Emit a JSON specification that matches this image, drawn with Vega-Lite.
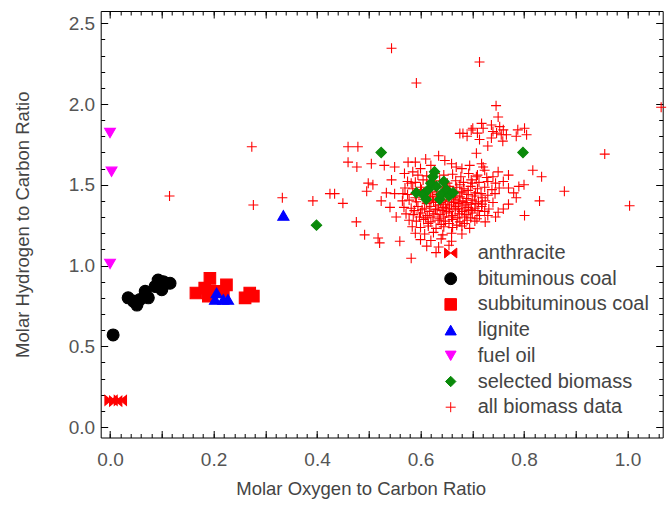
{
  "$schema": "https://vega.github.io/schema/vega-lite/v6.json",
  "autosize": "none",
  "width": 562,
  "height": 426.5,
  "padding": {"left": 100.7, "top": 11, "right": 6.3, "bottom": 69.5},
  "background": "white",
  "config": {
    "view": {"stroke": null},
    "font": "Liberation Sans",
    "axis": {"grid": false, "domainColor": "#000", "tickColor": "#000", "domainWidth": 1, "tickWidth": 1, "labelFont": "Liberation Sans", "labelFontSize": 19, "labelColor": "#555", "titleFont": "Liberation Sans", "titleFontSize": 18.5, "titleFontWeight": "normal", "titleColor": "#444"},
    "legend": {"labelFont": "Liberation Sans", "labelFontSize": 20, "labelColor": "#444", "labelLimit": 400}
  },
  "resolve": {"axis": {"x": "independent", "y": "independent"}},
  "layer": [
    {
      "data": {"values": [
        {"oc": 0.115, "hc": 1.43, "t": "all biomass data"},
        {"oc": 0.274, "hc": 1.735, "t": "all biomass data"},
        {"oc": 0.277, "hc": 1.375, "t": "all biomass data"},
        {"oc": 0.333, "hc": 1.42, "t": "all biomass data"},
        {"oc": 0.392, "hc": 1.40, "t": "all biomass data"},
        {"oc": 0.425, "hc": 1.445, "t": "all biomass data"},
        {"oc": 0.434, "hc": 1.445, "t": "all biomass data"},
        {"oc": 0.45, "hc": 1.385, "t": "all biomass data"},
        {"oc": 0.46, "hc": 1.735, "t": "all biomass data"},
        {"oc": 0.479, "hc": 1.735, "t": "all biomass data"},
        {"oc": 0.46, "hc": 1.64, "t": "all biomass data"},
        {"oc": 0.477, "hc": 1.61, "t": "all biomass data"},
        {"oc": 0.476, "hc": 1.27, "t": "all biomass data"},
        {"oc": 0.492, "hc": 1.19, "t": "all biomass data"},
        {"oc": 0.518, "hc": 1.17, "t": "all biomass data"},
        {"oc": 0.521, "hc": 1.14, "t": "all biomass data"},
        {"oc": 0.56, "hc": 1.15, "t": "all biomass data"},
        {"oc": 0.582, "hc": 1.045, "t": "all biomass data"},
        {"oc": 0.544, "hc": 2.345, "t": "all biomass data"},
        {"oc": 0.714, "hc": 2.26, "t": "all biomass data"},
        {"oc": 0.592, "hc": 2.13, "t": "all biomass data"},
        {"oc": 1.065, "hc": 1.98, "t": "all biomass data"},
        {"oc": 0.746, "hc": 1.99, "t": "all biomass data"},
        {"oc": 0.75, "hc": 1.92, "t": "all biomass data"},
        {"oc": 0.956, "hc": 1.69, "t": "all biomass data"},
        {"oc": 1.004, "hc": 1.37, "t": "all biomass data"},
        {"oc": 0.878, "hc": 1.46, "t": "all biomass data"},
        {"oc": 0.83, "hc": 1.40, "t": "all biomass data"},
        {"oc": 0.817, "hc": 1.59, "t": "all biomass data"},
        {"oc": 0.834, "hc": 1.55, "t": "all biomass data"},
        {"oc": 0.801, "hc": 1.31, "t": "all biomass data"},
        {"oc": 0.505, "hc": 1.63, "t": "all biomass data"},
        {"oc": 0.53, "hc": 1.62, "t": "all biomass data"},
        {"oc": 0.55, "hc": 1.61, "t": "all biomass data"},
        {"oc": 0.499, "hc": 1.51, "t": "all biomass data"},
        {"oc": 0.508, "hc": 1.50, "t": "all biomass data"},
        {"oc": 0.496, "hc": 1.46, "t": "all biomass data"},
        {"oc": 0.534, "hc": 1.45, "t": "all biomass data"},
        {"oc": 0.544, "hc": 1.53, "t": "all biomass data"},
        {"oc": 0.55, "hc": 1.445, "t": "all biomass data"},
        {"oc": 0.566, "hc": 1.445, "t": "all biomass data"},
        {"oc": 0.524, "hc": 1.40, "t": "all biomass data"},
        {"oc": 0.541, "hc": 1.36, "t": "all biomass data"},
        {"oc": 0.553, "hc": 1.30, "t": "all biomass data"},
        {"oc": 0.576, "hc": 1.64, "t": "all biomass data"},
        {"oc": 0.569, "hc": 1.57, "t": "all biomass data"},
        {"oc": 0.582, "hc": 1.51, "t": "all biomass data"},
        {"oc": 0.676, "hc": 1.818, "t": "all biomass data"},
        {"oc": 0.682, "hc": 1.818, "t": "all biomass data"},
        {"oc": 0.698, "hc": 1.839, "t": "all biomass data"},
        {"oc": 0.701, "hc": 1.85, "t": "all biomass data"},
        {"oc": 0.718, "hc": 1.88, "t": "all biomass data"},
        {"oc": 0.721, "hc": 1.85, "t": "all biomass data"},
        {"oc": 0.737, "hc": 1.87, "t": "all biomass data"},
        {"oc": 0.740, "hc": 1.83, "t": "all biomass data"},
        {"oc": 0.747, "hc": 1.82, "t": "all biomass data"},
        {"oc": 0.753, "hc": 1.86, "t": "all biomass data"},
        {"oc": 0.756, "hc": 1.81, "t": "all biomass data"},
        {"oc": 0.766, "hc": 1.81, "t": "all biomass data"},
        {"oc": 0.759, "hc": 1.77, "t": "all biomass data"},
        {"oc": 0.788, "hc": 1.84, "t": "all biomass data"},
        {"oc": 0.801, "hc": 1.85, "t": "all biomass data"},
        {"oc": 0.805, "hc": 1.81, "t": "all biomass data"},
        {"oc": 0.714, "hc": 1.78, "t": "all biomass data"},
        {"oc": 0.737, "hc": 1.79, "t": "all biomass data"},
        {"oc": 0.708, "hc": 1.695, "t": "all biomass data"},
        {"oc": 0.718, "hc": 1.63, "t": "all biomass data"},
        {"oc": 0.721, "hc": 1.61, "t": "all biomass data"},
        {"oc": 0.724, "hc": 1.59, "t": "all biomass data"},
        {"oc": 0.708, "hc": 1.55, "t": "all biomass data"},
        {"oc": 0.669, "hc": 1.61, "t": "all biomass data"},
        {"oc": 0.66, "hc": 1.63, "t": "all biomass data"},
        {"oc": 0.647, "hc": 1.65, "t": "all biomass data"},
        {"oc": 0.73, "hc": 1.74, "t": "all biomass data"},
        {"oc": 0.69, "hc": 1.80, "t": "all biomass data"},
        {"oc": 0.76, "hc": 1.84, "t": "all biomass data"},
        {"oc": 0.785, "hc": 1.80, "t": "all biomass data"},
        {"oc": 0.71, "hc": 1.82, "t": "all biomass data"},
        {"oc": 0.76, "hc": 1.52, "t": "all biomass data"},
        {"oc": 0.77, "hc": 1.48, "t": "all biomass data"},
        {"oc": 0.78, "hc": 1.45, "t": "all biomass data"},
        {"oc": 0.785, "hc": 1.42, "t": "all biomass data"},
        {"oc": 0.77, "hc": 1.38, "t": "all biomass data"},
        {"oc": 0.76, "hc": 1.35, "t": "all biomass data"},
        {"oc": 0.75, "hc": 1.33, "t": "all biomass data"},
        {"oc": 0.745, "hc": 1.30, "t": "all biomass data"},
        {"oc": 0.73, "hc": 1.31, "t": "all biomass data"},
        {"oc": 0.725, "hc": 1.27, "t": "all biomass data"},
        {"oc": 0.79, "hc": 1.49, "t": "all biomass data"},
        {"oc": 0.80, "hc": 1.50, "t": "all biomass data"},
        {"oc": 0.74, "hc": 1.55, "t": "all biomass data"},
        {"oc": 0.75, "hc": 1.58, "t": "all biomass data"},
        {"oc": 0.77, "hc": 1.56, "t": "all biomass data"},
        {"oc": 0.695, "hc": 1.62, "t": "all biomass data"},
        {"oc": 0.68, "hc": 1.60, "t": "all biomass data"},
        {"oc": 0.62, "hc": 1.62, "t": "all biomass data"},
        {"oc": 0.60, "hc": 1.60, "t": "all biomass data"},
        {"oc": 0.59, "hc": 1.64, "t": "all biomass data"},
        {"oc": 0.61, "hc": 1.66, "t": "all biomass data"},
        {"oc": 0.635, "hc": 1.68, "t": "all biomass data"},
        {"oc": 0.585, "hc": 1.58, "t": "all biomass data"},
        {"oc": 0.595, "hc": 1.56, "t": "all biomass data"},
        {"oc": 0.612, "hc": 1.555, "t": "all biomass data"},
        {"oc": 0.628, "hc": 1.57, "t": "all biomass data"},
        {"oc": 0.645, "hc": 1.56, "t": "all biomass data"},
        {"oc": 0.662, "hc": 1.565, "t": "all biomass data"},
        {"oc": 0.678, "hc": 1.55, "t": "all biomass data"},
        {"oc": 0.693, "hc": 1.57, "t": "all biomass data"},
        {"oc": 0.71, "hc": 1.56, "t": "all biomass data"},
        {"oc": 0.728, "hc": 1.545, "t": "all biomass data"},
        {"oc": 0.575, "hc": 1.52, "t": "all biomass data"},
        {"oc": 0.59, "hc": 1.515, "t": "all biomass data"},
        {"oc": 0.605, "hc": 1.53, "t": "all biomass data"},
        {"oc": 0.62, "hc": 1.52, "t": "all biomass data"},
        {"oc": 0.637, "hc": 1.525, "t": "all biomass data"},
        {"oc": 0.652, "hc": 1.51, "t": "all biomass data"},
        {"oc": 0.668, "hc": 1.525, "t": "all biomass data"},
        {"oc": 0.683, "hc": 1.515, "t": "all biomass data"},
        {"oc": 0.698, "hc": 1.53, "t": "all biomass data"},
        {"oc": 0.713, "hc": 1.515, "t": "all biomass data"},
        {"oc": 0.73, "hc": 1.52, "t": "all biomass data"},
        {"oc": 0.745, "hc": 1.51, "t": "all biomass data"},
        {"oc": 0.57, "hc": 1.48, "t": "all biomass data"},
        {"oc": 0.585, "hc": 1.475, "t": "all biomass data"},
        {"oc": 0.6, "hc": 1.485, "t": "all biomass data"},
        {"oc": 0.614, "hc": 1.47, "t": "all biomass data"},
        {"oc": 0.628, "hc": 1.485, "t": "all biomass data"},
        {"oc": 0.643, "hc": 1.48, "t": "all biomass data"},
        {"oc": 0.657, "hc": 1.47, "t": "all biomass data"},
        {"oc": 0.67, "hc": 1.485, "t": "all biomass data"},
        {"oc": 0.684, "hc": 1.475, "t": "all biomass data"},
        {"oc": 0.697, "hc": 1.49, "t": "all biomass data"},
        {"oc": 0.71, "hc": 1.475, "t": "all biomass data"},
        {"oc": 0.724, "hc": 1.485, "t": "all biomass data"},
        {"oc": 0.738, "hc": 1.47, "t": "all biomass data"},
        {"oc": 0.752, "hc": 1.48, "t": "all biomass data"},
        {"oc": 0.575, "hc": 1.44, "t": "all biomass data"},
        {"oc": 0.59, "hc": 1.445, "t": "all biomass data"},
        {"oc": 0.604, "hc": 1.435, "t": "all biomass data"},
        {"oc": 0.618, "hc": 1.45, "t": "all biomass data"},
        {"oc": 0.631, "hc": 1.44, "t": "all biomass data"},
        {"oc": 0.644, "hc": 1.43, "t": "all biomass data"},
        {"oc": 0.656, "hc": 1.445, "t": "all biomass data"},
        {"oc": 0.668, "hc": 1.435, "t": "all biomass data"},
        {"oc": 0.68, "hc": 1.45, "t": "all biomass data"},
        {"oc": 0.692, "hc": 1.44, "t": "all biomass data"},
        {"oc": 0.704, "hc": 1.43, "t": "all biomass data"},
        {"oc": 0.717, "hc": 1.445, "t": "all biomass data"},
        {"oc": 0.73, "hc": 1.435, "t": "all biomass data"},
        {"oc": 0.744, "hc": 1.445, "t": "all biomass data"},
        {"oc": 0.565, "hc": 1.40, "t": "all biomass data"},
        {"oc": 0.578, "hc": 1.405, "t": "all biomass data"},
        {"oc": 0.592, "hc": 1.395, "t": "all biomass data"},
        {"oc": 0.605, "hc": 1.41, "t": "all biomass data"},
        {"oc": 0.617, "hc": 1.40, "t": "all biomass data"},
        {"oc": 0.629, "hc": 1.39, "t": "all biomass data"},
        {"oc": 0.641, "hc": 1.405, "t": "all biomass data"},
        {"oc": 0.653, "hc": 1.395, "t": "all biomass data"},
        {"oc": 0.665, "hc": 1.41, "t": "all biomass data"},
        {"oc": 0.676, "hc": 1.40, "t": "all biomass data"},
        {"oc": 0.688, "hc": 1.39, "t": "all biomass data"},
        {"oc": 0.70, "hc": 1.405, "t": "all biomass data"},
        {"oc": 0.712, "hc": 1.395, "t": "all biomass data"},
        {"oc": 0.725, "hc": 1.40, "t": "all biomass data"},
        {"oc": 0.74, "hc": 1.39, "t": "all biomass data"},
        {"oc": 0.568, "hc": 1.36, "t": "all biomass data"},
        {"oc": 0.582, "hc": 1.355, "t": "all biomass data"},
        {"oc": 0.595, "hc": 1.365, "t": "all biomass data"},
        {"oc": 0.608, "hc": 1.355, "t": "all biomass data"},
        {"oc": 0.62, "hc": 1.365, "t": "all biomass data"},
        {"oc": 0.632, "hc": 1.35, "t": "all biomass data"},
        {"oc": 0.644, "hc": 1.36, "t": "all biomass data"},
        {"oc": 0.656, "hc": 1.355, "t": "all biomass data"},
        {"oc": 0.668, "hc": 1.365, "t": "all biomass data"},
        {"oc": 0.68, "hc": 1.35, "t": "all biomass data"},
        {"oc": 0.692, "hc": 1.36, "t": "all biomass data"},
        {"oc": 0.705, "hc": 1.355, "t": "all biomass data"},
        {"oc": 0.718, "hc": 1.365, "t": "all biomass data"},
        {"oc": 0.732, "hc": 1.35, "t": "all biomass data"},
        {"oc": 0.572, "hc": 1.32, "t": "all biomass data"},
        {"oc": 0.586, "hc": 1.315, "t": "all biomass data"},
        {"oc": 0.6, "hc": 1.325, "t": "all biomass data"},
        {"oc": 0.613, "hc": 1.31, "t": "all biomass data"},
        {"oc": 0.626, "hc": 1.32, "t": "all biomass data"},
        {"oc": 0.638, "hc": 1.315, "t": "all biomass data"},
        {"oc": 0.65, "hc": 1.325, "t": "all biomass data"},
        {"oc": 0.662, "hc": 1.31, "t": "all biomass data"},
        {"oc": 0.675, "hc": 1.32, "t": "all biomass data"},
        {"oc": 0.688, "hc": 1.315, "t": "all biomass data"},
        {"oc": 0.70, "hc": 1.325, "t": "all biomass data"},
        {"oc": 0.714, "hc": 1.31, "t": "all biomass data"},
        {"oc": 0.578, "hc": 1.28, "t": "all biomass data"},
        {"oc": 0.592, "hc": 1.275, "t": "all biomass data"},
        {"oc": 0.606, "hc": 1.285, "t": "all biomass data"},
        {"oc": 0.62, "hc": 1.27, "t": "all biomass data"},
        {"oc": 0.634, "hc": 1.28, "t": "all biomass data"},
        {"oc": 0.648, "hc": 1.275, "t": "all biomass data"},
        {"oc": 0.662, "hc": 1.285, "t": "all biomass data"},
        {"oc": 0.676, "hc": 1.27, "t": "all biomass data"},
        {"oc": 0.69, "hc": 1.28, "t": "all biomass data"},
        {"oc": 0.705, "hc": 1.275, "t": "all biomass data"},
        {"oc": 0.584, "hc": 1.24, "t": "all biomass data"},
        {"oc": 0.6, "hc": 1.235, "t": "all biomass data"},
        {"oc": 0.615, "hc": 1.245, "t": "all biomass data"},
        {"oc": 0.63, "hc": 1.23, "t": "all biomass data"},
        {"oc": 0.645, "hc": 1.24, "t": "all biomass data"},
        {"oc": 0.662, "hc": 1.235, "t": "all biomass data"},
        {"oc": 0.68, "hc": 1.245, "t": "all biomass data"},
        {"oc": 0.695, "hc": 1.23, "t": "all biomass data"},
        {"oc": 0.59, "hc": 1.20, "t": "all biomass data"},
        {"oc": 0.608, "hc": 1.195, "t": "all biomass data"},
        {"oc": 0.625, "hc": 1.205, "t": "all biomass data"},
        {"oc": 0.643, "hc": 1.19, "t": "all biomass data"},
        {"oc": 0.66, "hc": 1.20, "t": "all biomass data"},
        {"oc": 0.68, "hc": 1.195, "t": "all biomass data"},
        {"oc": 0.6, "hc": 1.16, "t": "all biomass data"},
        {"oc": 0.62, "hc": 1.155, "t": "all biomass data"},
        {"oc": 0.64, "hc": 1.165, "t": "all biomass data"},
        {"oc": 0.66, "hc": 1.15, "t": "all biomass data"},
        {"oc": 0.612, "hc": 1.12, "t": "all biomass data"},
        {"oc": 0.635, "hc": 1.115, "t": "all biomass data"},
        {"oc": 0.655, "hc": 1.125, "t": "all biomass data"},
        {"oc": 0.63, "hc": 1.08, "t": "all biomass data"},
        {"oc": 0.623, "hc": 1.425, "t": "all biomass data"},
        {"oc": 0.637, "hc": 1.415, "t": "all biomass data"},
        {"oc": 0.65, "hc": 1.425, "t": "all biomass data"},
        {"oc": 0.663, "hc": 1.42, "t": "all biomass data"},
        {"oc": 0.676, "hc": 1.425, "t": "all biomass data"},
        {"oc": 0.689, "hc": 1.415, "t": "all biomass data"},
        {"oc": 0.635, "hc": 1.375, "t": "all biomass data"},
        {"oc": 0.648, "hc": 1.38, "t": "all biomass data"},
        {"oc": 0.66, "hc": 1.375, "t": "all biomass data"},
        {"oc": 0.673, "hc": 1.385, "t": "all biomass data"},
        {"oc": 0.686, "hc": 1.375, "t": "all biomass data"},
        {"oc": 0.698, "hc": 1.38, "t": "all biomass data"},
        {"oc": 0.642, "hc": 1.34, "t": "all biomass data"},
        {"oc": 0.655, "hc": 1.335, "t": "all biomass data"},
        {"oc": 0.667, "hc": 1.345, "t": "all biomass data"},
        {"oc": 0.68, "hc": 1.335, "t": "all biomass data"},
        {"oc": 0.693, "hc": 1.34, "t": "all biomass data"},
        {"oc": 0.63, "hc": 1.46, "t": "all biomass data"},
        {"oc": 0.655, "hc": 1.46, "t": "all biomass data"},
        {"oc": 0.68, "hc": 1.46, "t": "all biomass data"},
        {"oc": 0.66, "hc": 1.30, "t": "all biomass data"},
        {"oc": 0.645, "hc": 1.30, "t": "all biomass data"},
        {"oc": 0.685, "hc": 1.30, "t": "all biomass data"},
        {"oc": 0.606, "hc": 1.45, "t": "all biomass data"},
        {"oc": 0.619, "hc": 1.43, "t": "all biomass data"},
        {"oc": 0.642, "hc": 1.455, "t": "all biomass data"},
        {"oc": 0.667, "hc": 1.455, "t": "all biomass data"},
        {"oc": 0.692, "hc": 1.465, "t": "all biomass data"},
        {"oc": 0.706, "hc": 1.45, "t": "all biomass data"},
        {"oc": 0.719, "hc": 1.42, "t": "all biomass data"},
        {"oc": 0.612, "hc": 1.385, "t": "all biomass data"},
        {"oc": 0.625, "hc": 1.40, "t": "all biomass data"},
        {"oc": 0.639, "hc": 1.39, "t": "all biomass data"},
        {"oc": 0.664, "hc": 1.39, "t": "all biomass data"},
        {"oc": 0.682, "hc": 1.395, "t": "all biomass data"},
        {"oc": 0.707, "hc": 1.385, "t": "all biomass data"},
        {"oc": 0.719, "hc": 1.38, "t": "all biomass data"},
        {"oc": 0.603, "hc": 1.345, "t": "all biomass data"},
        {"oc": 0.617, "hc": 1.335, "t": "all biomass data"},
        {"oc": 0.629, "hc": 1.345, "t": "all biomass data"},
        {"oc": 0.65, "hc": 1.35, "t": "all biomass data"},
        {"oc": 0.673, "hc": 1.355, "t": "all biomass data"},
        {"oc": 0.698, "hc": 1.345, "t": "all biomass data"},
        {"oc": 0.711, "hc": 1.34, "t": "all biomass data"},
        {"oc": 0.724, "hc": 1.335, "t": "all biomass data"},
        {"oc": 0.61, "hc": 1.295, "t": "all biomass data"},
        {"oc": 0.624, "hc": 1.30, "t": "all biomass data"},
        {"oc": 0.637, "hc": 1.29, "t": "all biomass data"},
        {"oc": 0.672, "hc": 1.295, "t": "all biomass data"},
        {"oc": 0.697, "hc": 1.295, "t": "all biomass data"},
        {"oc": 0.709, "hc": 1.29, "t": "all biomass data"},
        {"oc": 0.615, "hc": 1.26, "t": "all biomass data"},
        {"oc": 0.64, "hc": 1.255, "t": "all biomass data"},
        {"oc": 0.655, "hc": 1.26, "t": "all biomass data"},
        {"oc": 0.67, "hc": 1.25, "t": "all biomass data"},
        {"oc": 0.685, "hc": 1.26, "t": "all biomass data"},
        {"oc": 0.598, "hc": 1.30, "t": "all biomass data"},
        {"oc": 0.588, "hc": 1.34, "t": "all biomass data"},
        {"oc": 0.59, "hc": 1.42, "t": "all biomass data"},
        {"oc": 0.602, "hc": 1.47, "t": "all biomass data"},
        {"oc": 0.655, "hc": 1.49, "t": "all biomass data"},
        {"oc": 0.676, "hc": 1.50, "t": "all biomass data"},
        {"oc": 0.70, "hc": 1.51, "t": "all biomass data"},
        {"oc": 0.002, "hc": 0.165, "t": "anthracite"},
        {"oc": 0.011, "hc": 0.16, "t": "anthracite"},
        {"oc": 0.02, "hc": 0.165, "t": "anthracite"},
        {"oc": 0.006, "hc": 0.57, "t": "bituminous coal"},
        {"oc": 0.035, "hc": 0.80, "t": "bituminous coal"},
        {"oc": 0.045, "hc": 0.78, "t": "bituminous coal"},
        {"oc": 0.052, "hc": 0.755, "t": "bituminous coal"},
        {"oc": 0.058, "hc": 0.79, "t": "bituminous coal"},
        {"oc": 0.068, "hc": 0.84, "t": "bituminous coal"},
        {"oc": 0.074, "hc": 0.80, "t": "bituminous coal"},
        {"oc": 0.087, "hc": 0.87, "t": "bituminous coal"},
        {"oc": 0.093, "hc": 0.91, "t": "bituminous coal"},
        {"oc": 0.10, "hc": 0.85, "t": "bituminous coal"},
        {"oc": 0.103, "hc": 0.90, "t": "bituminous coal"},
        {"oc": 0.109, "hc": 0.89, "t": "bituminous coal"},
        {"oc": 0.116, "hc": 0.89, "t": "bituminous coal"},
        {"oc": 0.166, "hc": 0.83, "t": "subbituminous coal"},
        {"oc": 0.183, "hc": 0.86, "t": "subbituminous coal"},
        {"oc": 0.193, "hc": 0.92, "t": "subbituminous coal"},
        {"oc": 0.19, "hc": 0.81, "t": "subbituminous coal"},
        {"oc": 0.206, "hc": 0.84, "t": "subbituminous coal"},
        {"oc": 0.219, "hc": 0.84, "t": "subbituminous coal"},
        {"oc": 0.225, "hc": 0.88, "t": "subbituminous coal"},
        {"oc": 0.261, "hc": 0.80, "t": "subbituminous coal"},
        {"oc": 0.27, "hc": 0.83, "t": "subbituminous coal"},
        {"oc": 0.277, "hc": 0.81, "t": "subbituminous coal"},
        {"oc": 0.206, "hc": 0.83, "t": "lignite"},
        {"oc": 0.203, "hc": 0.79, "t": "lignite"},
        {"oc": 0.219, "hc": 0.79, "t": "lignite"},
        {"oc": 0.228, "hc": 0.79, "t": "lignite"},
        {"oc": 0.335, "hc": 1.31, "t": "lignite"},
        {"oc": 0.0, "hc": 1.82, "t": "fuel oil"},
        {"oc": 0.003, "hc": 1.58, "t": "fuel oil"},
        {"oc": 0.0, "hc": 1.01, "t": "fuel oil"},
        {"oc": 0.399, "hc": 1.25, "t": "selected biomass"},
        {"oc": 0.524, "hc": 1.70, "t": "selected biomass"},
        {"oc": 0.798, "hc": 1.70, "t": "selected biomass"},
        {"oc": 0.592, "hc": 1.45, "t": "selected biomass"},
        {"oc": 0.605, "hc": 1.44, "t": "selected biomass"},
        {"oc": 0.611, "hc": 1.41, "t": "selected biomass"},
        {"oc": 0.615, "hc": 1.47, "t": "selected biomass"},
        {"oc": 0.62, "hc": 1.51, "t": "selected biomass"},
        {"oc": 0.624, "hc": 1.55, "t": "selected biomass"},
        {"oc": 0.627, "hc": 1.58, "t": "selected biomass"},
        {"oc": 0.631, "hc": 1.49, "t": "selected biomass"},
        {"oc": 0.637, "hc": 1.41, "t": "selected biomass"},
        {"oc": 0.64, "hc": 1.44, "t": "selected biomass"},
        {"oc": 0.645, "hc": 1.52, "t": "selected biomass"},
        {"oc": 0.65, "hc": 1.47, "t": "selected biomass"},
        {"oc": 0.655, "hc": 1.43, "t": "selected biomass"},
        {"oc": 0.663, "hc": 1.45, "t": "selected biomass"}
      ]},
      "mark": {"type": "point", "filled": true, "opacity": 1, "strokeWidth": 1.1},
      "encoding": {
        "x": {"field": "oc", "type": "quantitative", "scale": {"domain": [-0.018, 1.068], "nice": false, "zero": false},
          "axis": {"orient": "bottom", "values": [0, 0.1, 0.2, 0.3, 0.4, 0.5, 0.6, 0.7, 0.8, 0.9, 1.0], "format": ".1f", "labelExpr": "round(datum.value*10)%2===0 ? datum.label : ''", "tickSize": -7, "labelPadding": 20, "title": "Molar Oxygen to Carbon Ratio", "titlePadding": 10, "titleX": 260, "labelFlush": false}},
        "y": {"field": "hc", "type": "quantitative", "scale": {"domain": [-0.065, 2.576], "nice": false, "zero": false},
          "axis": {"orient": "left", "values": [0, 0.5, 1.0, 1.5, 2.0, 2.5], "format": ".1f", "tickSize": -7, "labelPadding": 13, "title": "Molar Hydrogen to Carbon Ratio", "titlePadding": 36, "labelFlush": false}},
        "color": {"field": "t", "type": "nominal",
          "scale": {"domain": ["anthracite", "bituminous coal", "subbituminous coal", "lignite", "fuel oil", "selected biomass", "all biomass data"], "range": ["#ff0000", "#000000", "#ff0000", "#0000ff", "#ff00ff", "#0a8a0a", "#ff0000"]},
          "legend": {"title": null, "orient": "none", "legendX": 340, "legendY": 232, "padding": 0, "rowPadding": 5.7, "labelOffset": 17, "symbolSize": 150, "symbolStrokeWidth": 1, "labelLimit": 400}},
        "stroke": {"field": "t", "type": "nominal",
          "scale": {"domain": ["anthracite", "bituminous coal", "subbituminous coal", "lignite", "fuel oil", "selected biomass", "all biomass data"], "range": ["#ff0000", "#000000", "#ff0000", "#0000ff", "#ff00ff", "#0a8a0a", "#ff0000"]},
          "legend": {"title": null, "orient": "none", "legendX": 340, "legendY": 232, "padding": 0, "rowPadding": 5.7, "labelOffset": 17, "symbolSize": 150, "symbolStrokeWidth": 1, "labelLimit": 400}},
        "shape": {"field": "t", "type": "nominal",
          "scale": {"domain": ["anthracite", "bituminous coal", "subbituminous coal", "lignite", "fuel oil", "selected biomass", "all biomass data"], "range": ["M-1,-0.8L0,0L-1,0.8ZM1,-0.8L0,0L1,0.8Z", "circle", "square", "triangle-up", "triangle-down", "diamond", "M-1,0L1,0M0,-1L0,1"]},
          "legend": {"title": null, "orient": "none", "legendX": 340, "legendY": 232, "padding": 0, "rowPadding": 5.7, "labelOffset": 17, "symbolSize": 150, "symbolStrokeWidth": 1, "labelLimit": 400}},
        "size": {"field": "t", "type": "nominal",
          "scale": {"domain": ["anthracite", "bituminous coal", "subbituminous coal", "lignite", "fuel oil", "selected biomass", "all biomass data"], "range": [150, 100, 75, 210, 170, 230, 64]},
          "legend": null}
      }
    },
    {
      "data": {"values": [{"oc": 0.5, "hc": 1.0}]},
      "mark": {"type": "point", "opacity": 0},
      "encoding": {
        "x": {"field": "oc", "type": "quantitative", "axis": {"orient": "bottom", "values": [0, 0.02, 0.04, 0.06, 0.08, 0.1, 0.12, 0.14, 0.16, 0.18, 0.2, 0.22, 0.24, 0.26, 0.28, 0.3, 0.32, 0.34, 0.36, 0.38, 0.4, 0.42, 0.44, 0.46, 0.48, 0.5, 0.52, 0.54, 0.56, 0.58, 0.6, 0.62, 0.64, 0.66, 0.68, 0.7, 0.72, 0.74, 0.76, 0.78, 0.8, 0.82, 0.84, 0.86, 0.88, 0.9, 0.92, 0.94, 0.96, 0.98, 1.0, 1.02, 1.04, 1.06], "tickSize": -4, "labels": false, "domain": false, "title": null}},
        "y": {"field": "hc", "type": "quantitative", "axis": {"orient": "left", "values": [0, 0.1, 0.2, 0.3, 0.4, 0.5, 0.6, 0.7, 0.8, 0.9, 1.0, 1.1, 1.2, 1.3, 1.4, 1.5, 1.6, 1.7, 1.8, 1.9, 2.0, 2.1, 2.2, 2.3, 2.4, 2.5], "tickSize": -4, "labels": false, "domain": false, "title": null}}
      }
    },
    {
      "data": {"values": [{"oc": 0.5, "hc": 1.0}]},
      "mark": {"type": "point", "opacity": 0},
      "encoding": {
        "x": {"field": "oc", "type": "quantitative", "axis": {"orient": "top", "values": [0, 0.1, 0.2, 0.3, 0.4, 0.5, 0.6, 0.7, 0.8, 0.9, 1.0], "tickSize": -7, "labels": false, "title": null}},
        "y": {"field": "hc", "type": "quantitative", "axis": {"orient": "right", "values": [0, 0.5, 1.0, 1.5, 2.0, 2.5], "tickSize": -7, "labels": false, "title": null}}
      }
    },
    {
      "data": {"values": [{"oc": 0.5, "hc": 1.0}]},
      "mark": {"type": "point", "opacity": 0},
      "encoding": {
        "x": {"field": "oc", "type": "quantitative", "axis": {"orient": "top", "values": [0, 0.02, 0.04, 0.06, 0.08, 0.1, 0.12, 0.14, 0.16, 0.18, 0.2, 0.22, 0.24, 0.26, 0.28, 0.3, 0.32, 0.34, 0.36, 0.38, 0.4, 0.42, 0.44, 0.46, 0.48, 0.5, 0.52, 0.54, 0.56, 0.58, 0.6, 0.62, 0.64, 0.66, 0.68, 0.7, 0.72, 0.74, 0.76, 0.78, 0.8, 0.82, 0.84, 0.86, 0.88, 0.9, 0.92, 0.94, 0.96, 0.98, 1.0, 1.02, 1.04, 1.06], "tickSize": -4, "labels": false, "domain": false, "title": null}},
        "y": {"field": "hc", "type": "quantitative", "axis": {"orient": "right", "values": [0, 0.1, 0.2, 0.3, 0.4, 0.5, 0.6, 0.7, 0.8, 0.9, 1.0, 1.1, 1.2, 1.3, 1.4, 1.5, 1.6, 1.7, 1.8, 1.9, 2.0, 2.1, 2.2, 2.3, 2.4, 2.5], "tickSize": -4, "labels": false, "domain": false, "title": null}}
      }
    }
  ]
}
